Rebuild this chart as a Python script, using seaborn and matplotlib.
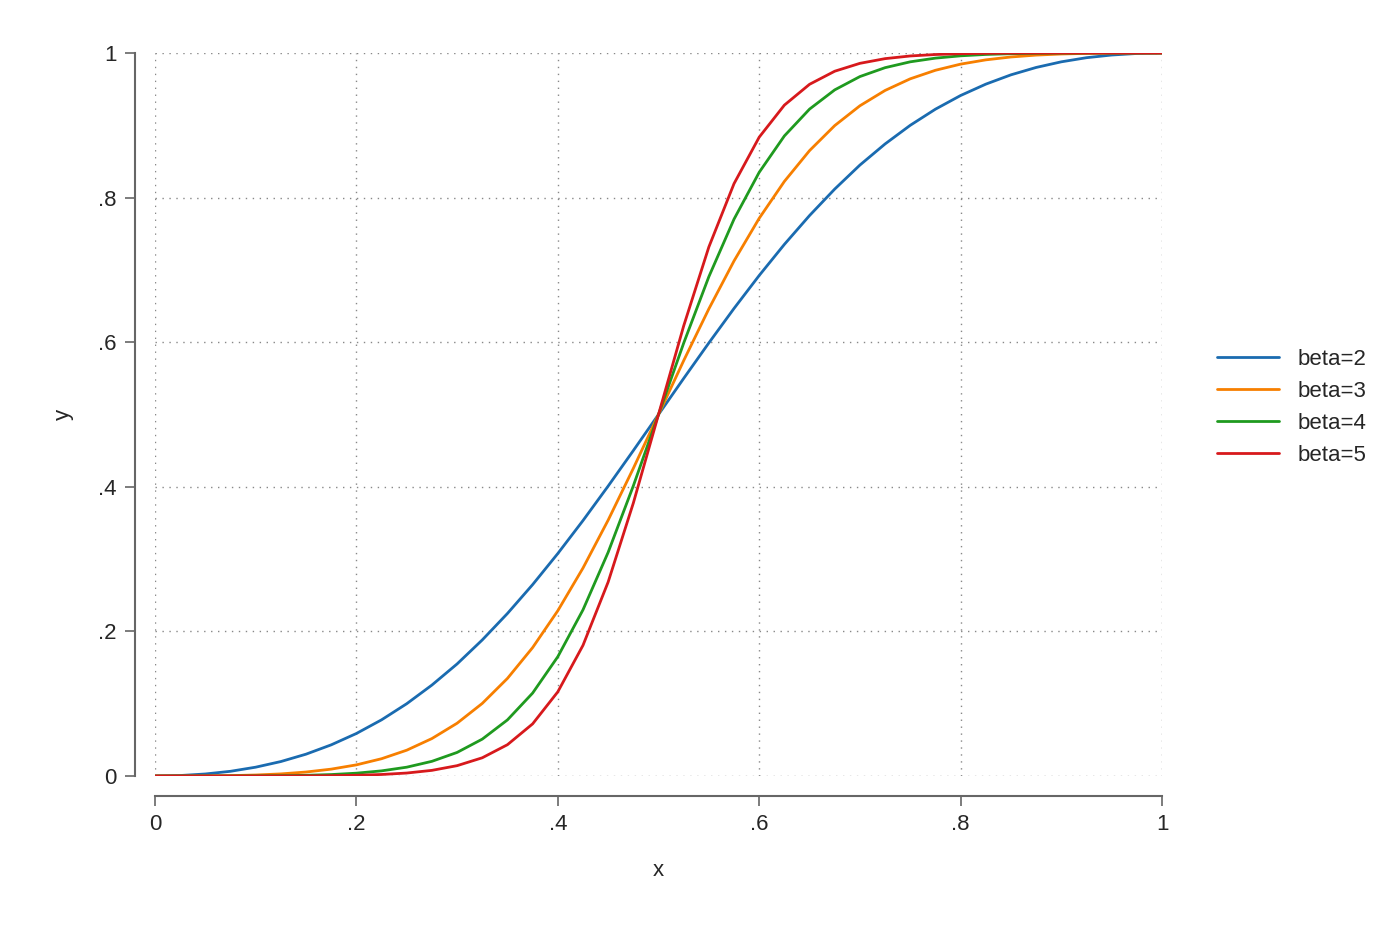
import matplotlib
matplotlib.use("Agg")
import matplotlib.pyplot as plt
import seaborn as sns
import pandas as pd

sns.set_theme(style="white")
plt.rcParams["font.family"] = ["Liberation Sans Narrow", "Liberation Sans", "DejaVu Sans"]

# values (x from 0 to 0.5; upper half mirrors)
x_half = [0, .025, .05, .075, .1, .125, .15, .175, .2, .225, .25, .275, .3,
          .325, .35, .375, .4, .425, .45, .475, .5]
y_b2 = [0, .00066, .0028, .0065, .0122, .020, .0302, .0431, .0588, .0777, .100,
        .1258, .155, .1882, .2248, .2647, .3077, .3533, .401, .4501, .5]
y_b3 = [0, .00002, .00015, .00053, .00137, .0029, .0055, .0095, .0154, .0239, .0357,
        .0518, .073, .1004, .135, .1776, .2286, .2876, .3539, .4255, .5]
y_b4 = [0, 0, 0, .00004, .00015, .0004, .00097, .002, .0039, .0071, .0122,
        .0203, .0326, .051, .0776, .1147, .165, .2298, .3094, .4013, .5]
y_b5 = [0, 0, 0, 0, .00002, .00006, .00017, .00043, .00098, .0021, .0041,
        .0078, .0143, .0252, .0433, .0721, .1164, .1807, .2683, .3775, .5]
labels = ["beta=2", "beta=3", "beta=4", "beta=5"]
colors = ["#1a6bb0", "#f77f00", "#1f9a1f", "#d7191c"]

rows = []
for lab, ys in zip(labels, [y_b2, y_b3, y_b4, y_b5]):
    xs = x_half + [1 - v for v in reversed(x_half[:-1])]
    yy = ys + [1 - v for v in reversed(ys[:-1])]
    rows += [{"x": a, "y": b, "beta": lab} for a, b in zip(xs, yy)]
df = pd.DataFrame(rows)

fig = plt.figure(figsize=(14, 9.33), dpi=100)
ax = fig.add_axes([155 / 1400, 1 - 776 / 933, (1162 - 155) / 1400, (776 - 53) / 933])
sns.lineplot(data=df, x="x", y="y", hue="beta", palette=colors, linewidth=2, ax=ax)
ax.set_xlim(0, 1)
ax.set_ylim(0, 1)
ticks = [0, .2, .4, .6, .8, 1]
ticklabels = ["0", ".2", ".4", ".6", ".8", "1"]
ax.set_xticks(ticks, ticklabels)
ax.set_yticks(ticks, ticklabels)
ax.grid(True, linestyle=(0, (1, 4)), color="#888888", linewidth=1)
ax.set_axisbelow(True)
for s in ["top", "right"]:
    ax.spines[s].set_visible(False)
for s in ["left", "bottom"]:
    ax.spines[s].set_position(("outward", 14.4))
    ax.spines[s].set_color("#666666")
    ax.spines[s].set_linewidth(1.5)
ax.tick_params(axis="both", direction="out", length=7, width=1.2, color="#666666",
               labelsize=16, bottom=True, left=True, pad=6)
ax.set_xlabel("x", fontsize=16, labelpad=18)
ax.set_ylabel("y", fontsize=16, labelpad=18)
ax.legend(frameon=False, loc="center left", bbox_to_anchor=(1.035, 0.51),
          fontsize=16, handlelength=2.8, labelspacing=0.5)
fig.savefig("out.png", dpi=100)
